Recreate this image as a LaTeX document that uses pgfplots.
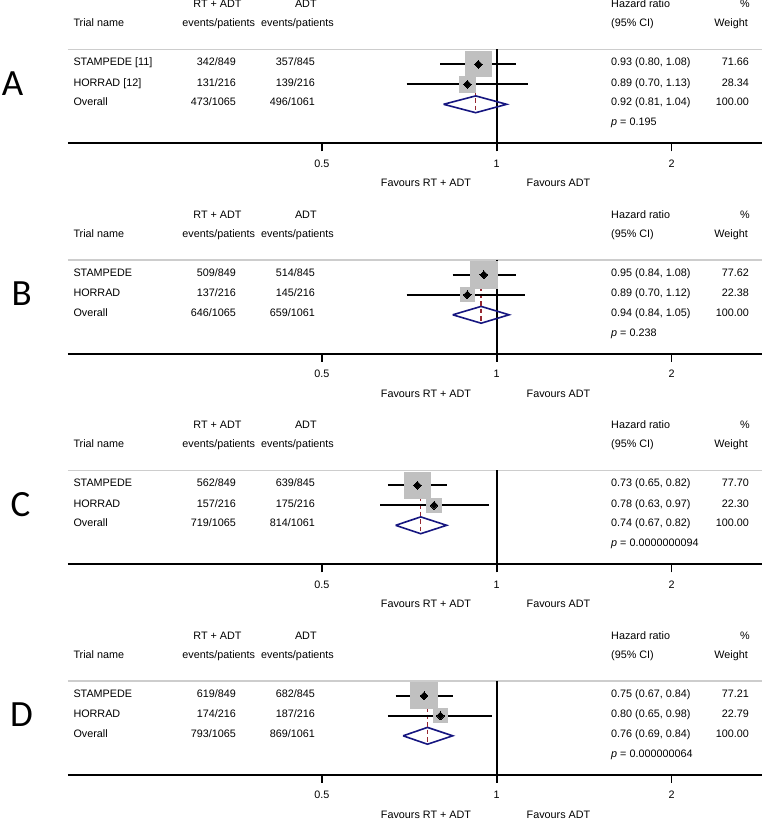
\documentclass[border=0pt]{standalone}
\usepackage{pgfplots}
\usepackage{pgfplotstable}
\pgfplotsset{compat=1.18}
\usepackage{fontspec}
\setmainfont{Liberation Sans}
\newfontfamily\letterfont{Carlito}

\definecolor{boxgray}{RGB}{192,192,192}
\definecolor{rulegray}{RGB}{205,205,205}
\definecolor{ovnavy}{RGB}{22,22,128}
\definecolor{estred}{RGB}{150,40,50}

\newcommand\tsz{\fontsize{10.8}{12}\selectfont}

% per trial: hazard ratio, 95% CI, weight, row
\pgfplotstableread{
hr   lo   hi   w     y
0.93 0.80 1.08 71.66 -0.75
0.89 0.70 1.13 28.34 -1.75
}\trialsA
\pgfplotstableread{
hr   lo   hi   w     y
0.95 0.84 1.08 77.62 -0.75
0.89 0.70 1.12 22.38 -1.75
}\trialsB
\pgfplotstableread{
hr   lo   hi   w     y
0.73 0.65 0.82 77.70 -0.75
0.78 0.63 0.97 22.30 -1.75
}\trialsC
\pgfplotstableread{
hr   lo   hi   w     y
0.75 0.67 0.84 77.21 -0.75
0.80 0.65 0.98 22.79 -1.75
}\trialsD

\newcommand\fpaxis{%
\begin{axis}[
    scale only axis, width=694pt, height=94pt, anchor=south west, clip=false,
    at={(68pt,-143.3pt)},
    xmode=log, log basis x=2, xmin=0.183, xmax=2.86,
    ymin=-4.7, ymax=0,
    axis y line=none, axis x line*=bottom,
    x axis line style={-, line width=1.8pt},
    xtick={0.5,1,2}, xticklabels={0.5,1,2}, minor xtick={},
    tick align=outside, major tick length=8pt,
    tick style={black, line width=1.5pt},
    xticklabel style={font=\tsz, yshift=-5pt},
  ]
  \draw[rulegray, line width=1.6pt] (rel axis cs:0,1) -- (rel axis cs:1,1);
  \addplot[black, line width=1.8pt] coordinates {(1,0) (1,-4.7)};
}
\newcommand\fpboxes[1]{%
  \addplot[scatter, only marks, mark=square*, draw=boxgray, fill=boxgray,
    mark options={draw=boxgray, fill=boxgray, line width=0pt},
    scatter/use mapped color={draw=boxgray, fill=boxgray},
    visualization depends on={\thisrow{w} \as \wt},
    scatter/@pre marker code/.append style={/tikz/mark size=1.5*sqrt(\wt)}]
    table[x=hr, y=y] {#1};
}
\newcommand\fpest[1]{%
  \addplot[only marks, mark=square*, mark size=2.7pt, black,
    mark options={rotate=45, line width=0pt}] table[x=hr, y=y] {#1};
}

\tikzset{txt/.style={inner sep=0pt, font=\tsz, yshift=1pt},
  ciline/.style={black, line width=1.8pt},
  pooled/.style={ovnavy, line width=1.6pt},
  pooledline/.style={estred, line width=1.3pt, dash pattern=on 4.5pt off 3pt}}

\newcommand\panelhead{%
  \node[txt, anchor=mid] at (217.5pt,-6pt) {RT + ADT};
  \node[txt, anchor=mid] at (305.8pt,-6pt) {ADT};
  \node[txt, anchor=mid west] at (611pt,-6pt) {Hazard ratio};
  \node[txt, anchor=mid east] at (750pt,-6pt) {\%};
  \node[txt, anchor=mid west] at (73.3pt,-25pt) {Trial name};
  \node[txt, anchor=mid] at (218.8pt,-25pt) {events/patients};
  \node[txt, anchor=mid] at (297.5pt,-25pt) {events/patients};
  \node[txt, anchor=mid west] at (611pt,-25pt) {(95\% CI)};
  \node[txt, anchor=mid east] at (748pt,-25pt) {Weight};
  \node[txt, anchor=mid] at (426pt,-185pt) {Favours RT + ADT};
  \node[txt, anchor=mid] at (558.5pt,-185pt) {Favours ADT};
}
\newcommand\trialrow[6]{%
  \node[txt, anchor=mid west] at (73.3pt,-#1pt) {#2};
  \node[txt, anchor=mid east] at (236pt,-#1pt) {#3};
  \node[txt, anchor=mid east] at (315pt,-#1pt) {#4};
  \node[txt, anchor=mid west] at (611pt,-#1pt) {#5};
  \node[txt, anchor=mid east] at (749pt,-#1pt) {#6};
}
\newcommand\pval[1]{\node[txt, anchor=mid west] at (611pt,-124pt) {\textit{p} = #1};}
\newcommand\panelletter[2]{\node[font=\letterfont\fontsize{37}{40}\selectfont, inner sep=0pt, anchor=base] at (#1pt,-95pt) {#2};}

\begin{document}
\begin{tikzpicture}
\useasboundingbox (0pt,0pt) rectangle (762pt,-819pt);

% ---- A ----
\begin{scope}
\fpaxis
  \fpboxes{\trialsA}
  \addplot[pooled] coordinates {(0.81,-2.75) (0.92,-2.33) (1.04,-2.75) (0.92,-3.17) (0.81,-2.75)};
  \addplot[pooledline] coordinates {(0.92,-0.185) (0.92,-3.17)};
  \addplot[ciline] coordinates {(0.80,-0.75) (1.08,-0.75)};
  \addplot[ciline] coordinates {(0.70,-1.75) (1.13,-1.75)};
  \fpest{\trialsA}
\end{axis}
\panelhead
\trialrow{64.3}{STAMPEDE [11]}{342/849}{357/845}{0.93 (0.80, 1.08)}{71.66}
\trialrow{84.5}{HORRAD [12]}{131/216}{139/216}{0.89 (0.70, 1.13)}{28.34}
\trialrow{104.3}{Overall}{473/1065}{496/1061}{0.92 (0.81, 1.04)}{100.00}
\pval{0.195}
\panelletter{12.5}{A}
\end{scope}

% ---- B ----
\begin{scope}[yshift=-210.5pt]
\fpaxis
  \fpboxes{\trialsB}
  \addplot[pooled] coordinates {(0.84,-2.75) (0.94,-2.33) (1.05,-2.75) (0.94,-3.17) (0.84,-2.75)};
  \addplot[pooledline] coordinates {(0.94,-0.185) (0.94,-3.17)};
  \addplot[ciline] coordinates {(0.84,-0.75) (1.08,-0.75)};
  \addplot[ciline] coordinates {(0.70,-1.75) (1.12,-1.75)};
  \fpest{\trialsB}
\end{axis}
\panelhead
\trialrow{64.3}{STAMPEDE}{509/849}{514/845}{0.95 (0.84, 1.08)}{77.62}
\trialrow{84.5}{HORRAD}{137/216}{145/216}{0.89 (0.70, 1.12)}{22.38}
\trialrow{104.3}{Overall}{646/1065}{659/1061}{0.94 (0.84, 1.05)}{100.00}
\pval{0.238}
\panelletter{21.7}{B}
\end{scope}

% ---- C ----
\begin{scope}[yshift=-421pt]
\fpaxis
  \fpboxes{\trialsC}
  \addplot[pooled] coordinates {(0.67,-2.75) (0.74,-2.33) (0.82,-2.75) (0.74,-3.17) (0.67,-2.75)};
  \addplot[pooledline] coordinates {(0.74,-0.185) (0.74,-3.17)};
  \addplot[ciline] coordinates {(0.65,-0.75) (0.82,-0.75)};
  \addplot[ciline] coordinates {(0.63,-1.75) (0.97,-1.75)};
  \fpest{\trialsC}
\end{axis}
\panelhead
\trialrow{64.3}{STAMPEDE}{562/849}{639/845}{0.73 (0.65, 0.82)}{77.70}
\trialrow{84.5}{HORRAD}{157/216}{175/216}{0.78 (0.63, 0.97)}{22.30}
\trialrow{104.3}{Overall}{719/1065}{814/1061}{0.74 (0.67, 0.82)}{100.00}
\pval{0.0000000094}
\panelletter{20.5}{C}
\end{scope}

% ---- D ----
\begin{scope}[yshift=-631.5pt]
\fpaxis
  \fpboxes{\trialsD}
  \addplot[pooled] coordinates {(0.69,-2.75) (0.76,-2.33) (0.84,-2.75) (0.76,-3.17) (0.69,-2.75)};
  \addplot[pooledline] coordinates {(0.76,-0.185) (0.76,-3.17)};
  \addplot[ciline] coordinates {(0.67,-0.75) (0.84,-0.75)};
  \addplot[ciline] coordinates {(0.65,-1.75) (0.98,-1.75)};
  \fpest{\trialsD}
\end{axis}
\panelhead
\trialrow{64.3}{STAMPEDE}{619/849}{682/845}{0.75 (0.67, 0.84)}{77.21}
\trialrow{84.5}{HORRAD}{174/216}{187/216}{0.80 (0.65, 0.98)}{22.79}
\trialrow{104.3}{Overall}{793/1065}{869/1061}{0.76 (0.69, 0.84)}{100.00}
\pval{0.000000064}
\panelletter{21.5}{D}
\end{scope}
\end{tikzpicture}
\end{document}
